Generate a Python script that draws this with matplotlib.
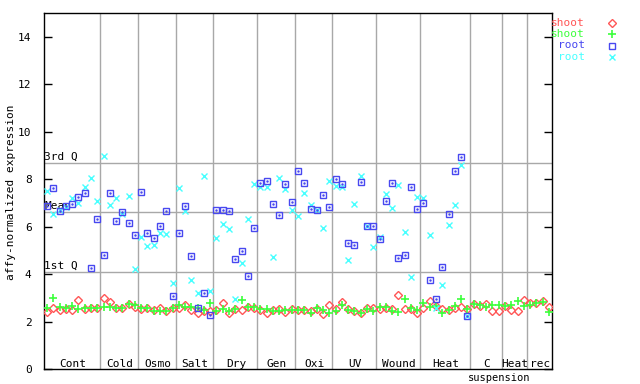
import numpy as np
import matplotlib
matplotlib.use("Agg")
import matplotlib.pyplot as plt
from matplotlib.lines import Line2D

groups = ["Cont", "Cold", "Osmo", "Salt", "Dry", "Gen", "Oxi", "UV", "Wound", "Heat", "C", "Heat", "rec"]
group_sizes = [9, 6, 6, 6, 7, 6, 6, 7, 7, 8, 5, 4, 4]

shoot_a = [2.39, 2.56, 2.48, 2.51, 2.48, 2.91, 2.53, 2.59, 2.58,
           2.98, 2.81, 2.56, 2.56, 2.74, 2.61,
           2.53, 2.58, 2.50, 2.57, 2.43, 2.56,
           2.57, 2.70, 2.49, 2.36, 2.46, 2.46,
           2.49, 2.78, 2.38, 2.53, 2.47, 2.60, 2.56,
           2.47, 2.35, 2.49, 2.52, 2.39, 2.53,
           2.49, 2.47, 2.45, 2.51, 2.31, 2.69,
           2.52, 2.84, 2.52, 2.46, 2.36, 2.56, 2.56,
           2.54, 2.56, 2.53, 3.11, 2.52, 2.52, 2.35,
           2.56, 2.86, 2.67, 2.53, 2.49, 2.59, 2.61, 2.53,
           2.73, 2.64, 2.75, 2.45, 2.45,
           2.65, 2.47, 2.46, 2.91,
           2.76, 2.79, 2.86, 2.61]
shoot_b = [2.57, 2.98, 2.61, 2.56, 2.65, 2.52, 2.57, 2.59, 2.59,
           2.61, 2.61, 2.58, 2.58, 2.73, 2.70,
           2.57, 2.57, 2.46, 2.44, 2.46, 2.57,
           2.68, 2.61, 2.62, 2.57, 2.47, 2.78,
           2.43, 2.53, 2.45, 2.54, 2.90, 2.62, 2.61,
           2.53, 2.53, 2.46, 2.43, 2.50, 2.49,
           2.50, 2.48, 2.36, 2.56, 2.47, 2.35,
           2.46, 2.69, 2.47, 2.46, 2.35, 2.52, 2.45,
           2.60, 2.62, 2.46, 2.39, 2.94, 2.56, 2.47,
           2.78, 2.60, 2.65, 2.36, 2.50, 2.66, 2.94, 2.53,
           2.73, 2.68, 2.63, 2.70, 2.69,
           2.65, 2.70, 2.88, 2.64,
           2.68, 2.79, 2.82, 2.39]
root_a = [6.86, 7.62, 6.66, 6.85, 6.96, 7.24, 7.41, 4.25, 6.33,
          4.80, 7.41, 6.24, 6.60, 6.16, 5.66,
          7.45, 5.72, 5.51, 6.02, 6.65, 3.07,
          5.72, 6.86, 4.76, 2.56, 3.19, 2.28,
          6.69, 6.69, 6.65, 4.64, 4.97, 3.91, 5.93,
          7.83, 7.92, 6.95, 6.48, 7.79, 7.03,
          8.35, 7.83, 6.73, 6.72, 7.33, 6.82,
          7.99, 7.80, 5.30, 5.23, 7.87, 6.03, 6.03,
          5.48, 7.08, 7.84, 4.67, 4.79, 7.66, 6.73,
          6.99, 3.74, 2.94, 4.29, 6.52, 8.34, 8.93, 2.23]
root_b = [7.51, 6.53, 6.70, 6.82, 7.19, 6.99, 7.66, 8.05, 7.08,
          8.99, 6.90, 7.20, 6.55, 7.29, 4.22,
          5.55, 5.18, 5.23, 5.72, 5.68, 3.61,
          7.62, 6.66, 3.74, 3.19, 8.13, 3.29,
          5.51, 6.10, 5.89, 2.95, 4.46, 6.32, 7.79,
          7.65, 7.66, 4.71, 8.04, 7.58, 6.69,
          6.45, 7.41, 6.90, 6.72, 5.93, 7.92,
          7.70, 7.65, 4.58, 6.96, 8.13, 6.03, 5.13,
          5.57, 7.38, 6.78, 7.75, 5.77, 3.87, 7.23,
          7.20, 5.65, 2.55, 3.54, 6.06, 6.90, 8.59, 2.23]

series_labels = ["shoot", "shoot", "root", "root"]
quartile_labels = ["3rd Q", "Mean", "1st Q"]
quartile_values = [8.68, 6.61, 4.08]
yticks = [0, 2, 4, 6, 8, 10, 12, 14]

RED = "#ff5656"
GREEN = "#3cff3c"
BLUE = "#4848f0"
CYAN = "#48ffff"
GRID = "#a8a8a8"
MONO = "DejaVu Sans Mono"

n = sum(group_sizes)
x_all = np.arange(n)
x_root = np.arange(len(root_a))

fig = plt.figure(figsize=(6.4, 3.84), dpi=100)
ax = fig.add_axes([44 / 640, 15 / 384, 508 / 640, 356 / 384])
ax.set_xlim(-0.5, n - 0.5)
ax.set_ylim(0, 15)

bounds = np.cumsum(group_sizes)[:-1] - 0.5
for b in bounds:
    ax.axvline(b, color=GRID, lw=1, zorder=1)
for qv in quartile_values:
    ax.axhline(qv, color=GRID, lw=1, zorder=1)

for lab, qv in zip(quartile_labels, quartile_values):
    ax.text(-0.45, qv + 0.05, lab, fontsize=8, family=MONO, ha="left", va="bottom", zorder=2)

starts = np.concatenate([[0], np.cumsum(group_sizes)[:-1]])
for g, s, size in zip(groups, starts, group_sizes):
    ax.text(s - 0.5 + size / 2 + 0.1, 0.22, g, fontsize=8, family=MONO, ha="center", va="center")
ax.text(72, -0.36, "suspension", fontsize=7.5, family=MONO, ha="center", va="center", clip_on=False)

h1, = ax.plot(x_all, shoot_a, ls="none", marker="D", ms=3.6, mfc="none", mec=RED, mew=1.0, zorder=3)
h2, = ax.plot(x_all, shoot_b, ls="none", marker="+", ms=6, mec=GREEN, mew=1.2, zorder=3)
h3, = ax.plot(x_root, root_a, ls="none", marker="s", ms=5, mfc="none", mec=BLUE, mew=1.0, zorder=4)
ax.plot(x_root, root_a, ls="none", marker=".", ms=1.5, color=BLUE, zorder=4)
h4, = ax.plot(x_root, root_b, ls="none", marker="x", ms=4.5, mec=CYAN, mew=1.0, zorder=3)

ax.set_xticks([])
ax.set_yticks(yticks)
ax.set_yticklabels([str(v) for v in yticks], family=MONO, fontsize=8)
ax.tick_params(axis="y", direction="in", length=6, width=1, right=True, left=True, pad=9)
for sp in ax.spines.values():
    sp.set_color("black")
    sp.set_linewidth(1)

fig.text(11 / 640, 1 - 192 / 384, "affy-normalized expression", family=MONO, fontsize=8,
         rotation=90, ha="center", va="center")

# legend (gnuplot style: right-aligned label, sample to the right)
leg_y = [23, 34, 45.5, 56.5]
for h, lab, col, yy in zip([h1, h2, h3, h4], series_labels, [RED, GREEN, BLUE, CYAN], leg_y):
    fig.text(585 / 640, 1 - yy / 384, lab, color=col, fontsize=8, family=MONO, ha="right", va="center")
    fig.add_artist(Line2D([612 / 640], [1 - yy / 384], transform=fig.transFigure, ls="none",
                          marker=h.get_marker(), ms=h.get_markersize(), mfc=h.get_markerfacecolor(),
                          mec=h.get_markeredgecolor(), mew=h.get_markeredgewidth()))

fig.savefig("out.png", dpi=100)
